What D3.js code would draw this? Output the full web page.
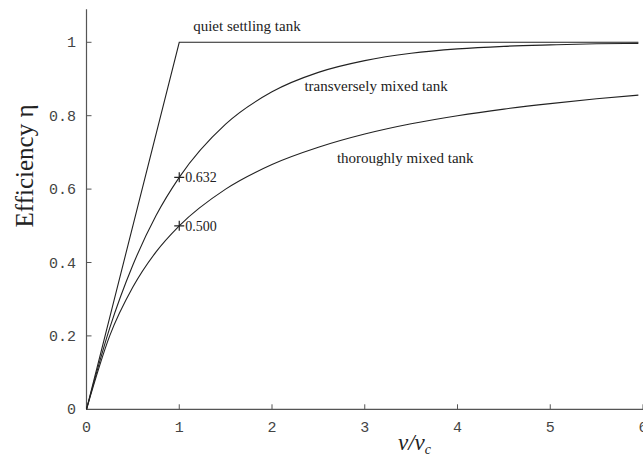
<!DOCTYPE html>
<html>
<head>
<meta charset="utf-8">
<script src="https://cdn.jsdelivr.net/npm/d3@7"></script>
<style>
  body { margin: 0; background: #fff; }
  svg { display: block; }
</style>
</head>
<body>
<div id="chart"></div>
<script>
// values
const xSamples = [0, 0.25, 0.5, 0.75, 1, 1.5, 2, 2.5, 3, 3.5, 4, 4.5, 5, 5.5, 5.95]
const transverse = [0, 0.221, 0.393, 0.528, 0.632, 0.777, 0.865, 0.918, 0.950, 0.970, 0.982, 0.989, 0.993, 0.996, 0.997]
const thorough = [0, 0.200, 0.333, 0.429, 0.500, 0.600, 0.667, 0.714, 0.750, 0.778, 0.800, 0.818, 0.833, 0.846, 0.856]
const quietX = [0, 1, 5.95]
const quiet = [0, 1, 1]
const xTicks = [0, 1, 2, 3, 4, 5, 6]
const yTicks = [0, 0.2, 0.4, 0.6, 0.8, 1]
const yTickLabels = ["0", "0.2", "0.4", "0.6", "0.8", "1"]
const markerPts = [[1, 0.632, "0.632"], [1, 0.500, "0.500"]]
const curveLabels = [
    ["quiet settling tank", 1.15, 1.03],
    ["transversely mixed tank", 2.35, 0.867],
    ["thoroughly mixed tank", 2.7, 0.672]
]

const width = 643, height = 458

var svg = d3.select("#chart")
    .append("svg")
    .attr("width", width)
    .attr("height", height)

var x = d3.scaleLinear().domain([0, 6]).range([86.5, 643])
var y = d3.scaleLinear().domain([0, 1]).range([409.3, 42.3])

const axisColor = "#555"
const lineColor = "#222"
const serif = "Liberation Serif, DejaVu Serif, serif"
const mono = "Liberation Mono, DejaVu Sans Mono, monospace"

// axes lines
svg.append("line")
    .attr("x1", x(0)).attr("x2", x(0))
    .attr("y1", y(0)).attr("y2", y(1.09))
    .attr("stroke", axisColor).attr("stroke-width", 1.2)
svg.append("line")
    .attr("x1", x(0)).attr("x2", x(6.1))
    .attr("y1", y(0)).attr("y2", y(0))
    .attr("stroke", axisColor).attr("stroke-width", 1.2)

// ticks point inward
svg.append("g").selectAll("line")
    .data(xTicks.slice(1))
    .enter().append("line")
    .attr("x1", d => x(d)).attr("x2", d => x(d))
    .attr("y1", y(0)).attr("y2", y(0) - 5)
    .attr("stroke", axisColor).attr("stroke-width", 1)
svg.append("g").selectAll("line")
    .data(yTicks.slice(1))
    .enter().append("line")
    .attr("x1", x(0)).attr("x2", x(0) + 5)
    .attr("y1", d => y(d)).attr("y2", d => y(d))
    .attr("stroke", axisColor).attr("stroke-width", 1)

// tick labels (monospace)
svg.append("g").selectAll("text")
    .data(xTicks)
    .enter().append("text")
    .attr("x", d => x(d))
    .attr("y", 432)
    .attr("text-anchor", "middle")
    .style("font-family", mono)
    .style("font-size", "15px")
    .style("fill", "#444")
    .text(d => d)
svg.append("g").selectAll("text")
    .data(yTicks)
    .enter().append("text")
    .attr("x", 76)
    .attr("y", d => y(d) + 5)
    .attr("text-anchor", "end")
    .style("font-family", mono)
    .style("font-size", "15px")
    .style("fill", "#444")
    .text((d, i) => yTickLabels[i])

// axis titles
svg.append("text")
    .attr("transform", "translate(33,166) rotate(-90)")
    .attr("text-anchor", "middle")
    .style("font-family", serif)
    .style("font-size", "25px")
    .style("fill", "#222")
    .text("Efficiency η")

var xt = svg.append("text")
    .attr("x", 398).attr("y", 450)
    .style("font-family", serif)
    .style("font-size", "23px")
    .style("font-style", "italic")
    .style("fill", "#222")
xt.append("tspan").text("v/v")
xt.append("tspan").attr("dy", 4).style("font-size", "14px").text("c")

// curves
var line = d3.line()
    .x(d => x(d[0]))
    .y(d => y(d[1]))
    .curve(d3.curveMonotoneX)

const series = [
    xSamples.map((v, i) => [v, transverse[i]]),
    xSamples.map((v, i) => [v, thorough[i]])
]
svg.append("g").selectAll("path")
    .data(series)
    .enter().append("path")
    .attr("d", line)
    .attr("fill", "none")
    .attr("stroke", lineColor)
    .attr("stroke-width", 1.1)

svg.append("path")
    .datum(quietX.map((v, i) => [v, quiet[i]]))
    .attr("d", d3.line().x(d => x(d[0])).y(d => y(d[1])))
    .attr("fill", "none")
    .attr("stroke", lineColor)
    .attr("stroke-width", 1.1)

// + markers and their values
var mk = svg.append("g").selectAll("g")
    .data(markerPts)
    .enter().append("g")
    .attr("transform", d => `translate(${x(d[0])},${y(d[1])})`)
mk.append("path")
    .attr("d", "M-5,0H5M0,-5V5")
    .attr("stroke", lineColor)
    .attr("stroke-width", 1.2)
mk.append("text")
    .attr("x", 6).attr("y", 5)
    .style("font-family", serif)
    .style("font-size", "14px")
    .style("fill", "#222")
    .text(d => d[2])

// curve names
svg.append("g").selectAll("text")
    .data(curveLabels)
    .enter().append("text")
    .attr("x", d => x(d[1]))
    .attr("y", d => y(d[2]))
    .style("font-family", serif)
    .style("font-size", "15px")
    .style("fill", "#222")
    .text(d => d[0])
</script>
</body>
</html>
